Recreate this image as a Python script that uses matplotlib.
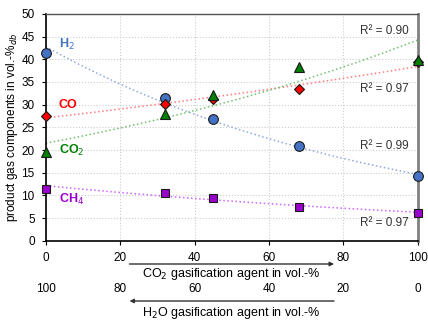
import numpy as np
import matplotlib
matplotlib.use("Agg")
import matplotlib.pyplot as plt
from matplotlib.transforms import blended_transform_factory

plt.rcParams["font.family"] = ["Liberation Sans", "DejaVu Sans"]

# data: CO2 share of gasification agent (vol.-%) and product gas composition
co2_share = np.array([0, 32, 45, 68, 100])
h2 = np.array([41.3, 31.4, 26.9, 20.8, 14.3])
co = np.array([27.6, 30.1, 31.3, 33.4, 39.4])
co2 = np.array([19.6, 28.0, 32.2, 38.2, 39.9])
ch4 = np.array([11.5, 10.5, 9.4, 7.5, 6.2])

r2_labels = ["R² = 0.99", "R² = 0.97", "R² = 0.90", "R² = 0.97"]
x_ticks = [0, 20, 40, 60, 80, 100]
h2o_ticks = ["100", "80", "60", "40", "20", "0"]

series = [
    # name, values, marker, face, trend colour, text colour, marker size, label y, r2 y
    ("H$_2$", h2, "o", "#4472C4", "#8FAADC", "#4472C4", 7, 43.2, 21.0),
    ("CO", co, "D", "#FF0000", "#FF7C80", "#FF0000", 5, 30.0, 33.5),
    ("CO$_2$", co2, "^", "#008000", "#70C070", "#008000", 7, 20.0, 46.2),
    ("CH$_4$", ch4, "s", "#9900CC", "#CC66FF", "#9900CC", 6, 9.2, 4.0),
]

fig = plt.figure(figsize=(4.28, 3.22), dpi=100)
ax = fig.add_axes([0.107, 0.252, 0.869, 0.705])

xs = np.linspace(0, 100, 200)
for (name, vals, mk, face, tcol, txtcol, ms, ly, ry), r2 in zip(series, r2_labels):
    # exponential trend line (Excel style)
    b, a = np.polyfit(co2_share, np.log(vals), 1)
    ax.plot(xs, np.exp(a + b * xs), linestyle=":", color=tcol, lw=1.1, zorder=2)
    ax.plot(co2_share, vals, linestyle="none", marker=mk, markersize=ms,
            markerfacecolor=face, markeredgecolor="#1a1a1a", markeredgewidth=0.8,
            zorder=4, clip_on=False)
    ax.text(3.5, ly, name, color=txtcol, fontsize=9, fontweight="bold",
            ha="left", va="center")
    ax.text(97.5, ry, r2, color="#333333", fontsize=8.5, ha="right", va="center")

ax.set_xlim(0, 100)
ax.set_ylim(0, 50)
ax.set_xticks(x_ticks)
ax.set_yticks(np.arange(0, 51, 5))
ax.tick_params(labelsize=8.5, length=3, width=0.8, pad=5)
ax.grid(True, linestyle=":", color="#cccccc", lw=0.8)
ax.set_axisbelow(True)
ax.set_ylabel("product gas components in vol.-%$_{db}$", fontsize=8.5, labelpad=1)

ax.spines["left"].set_linewidth(1.2)
ax.spines["bottom"].set_linewidth(1.2)
ax.spines["top"].set_color("#555555")
ax.spines["top"].set_linewidth(1.0)
ax.spines["right"].set_color("#808080")
ax.spines["right"].set_linewidth(2.0)

# secondary annotations below the axis
tr = blended_transform_factory(ax.transData, fig.transFigure)
ax.annotate("", xy=(77.5, 1 - 264 / 322), xytext=(22.5, 1 - 264 / 322),
            xycoords=tr, textcoords=tr,
            arrowprops=dict(arrowstyle="-|>", color="#333333", lw=1.0,
                            mutation_scale=6, shrinkA=0, shrinkB=0))
ax.text(50, 1 - 274 / 322, "CO$_2$ gasification agent in vol.-%", transform=tr,
        ha="center", va="center", fontsize=9)
for xt, lab in zip(x_ticks, h2o_ticks):
    ax.text(xt, 1 - 289 / 322, lab, transform=tr, ha="center", va="center",
            fontsize=8.5)
ax.annotate("", xy=(22.5, 1 - 301 / 322), xytext=(77.5, 1 - 301 / 322),
            xycoords=tr, textcoords=tr,
            arrowprops=dict(arrowstyle="-|>", color="#333333", lw=1.0,
                            mutation_scale=6, shrinkA=0, shrinkB=0))
ax.text(50, 1 - 313 / 322, "H$_2$O gasification agent in vol.-%", transform=tr,
        ha="center", va="center", fontsize=9)

fig.savefig("out.png", dpi=100)
